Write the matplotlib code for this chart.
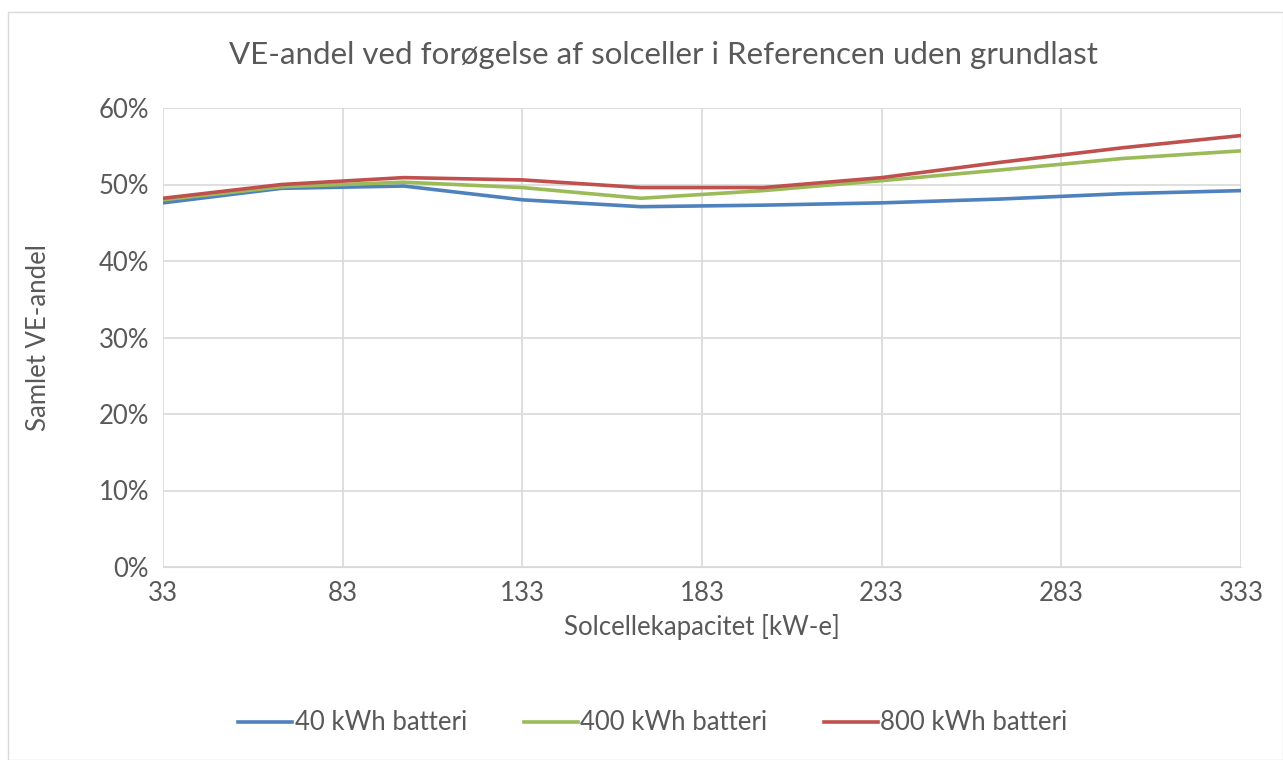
import matplotlib.pyplot as plt
from matplotlib.patches import Rectangle

plt.rcParams['font.family'] = ['Lato', 'DejaVu Sans']

kap = [33, 66, 100, 133, 166, 200, 233, 266, 300, 333]
bat40 = [47.6, 49.5, 49.8, 48.0, 47.1, 47.3, 47.6, 48.1, 48.8, 49.2]
bat400 = [48.0, 49.7, 50.3, 49.6, 48.2, 49.2, 50.5, 51.9, 53.4, 54.4]
bat800 = [48.2, 50.0, 50.9, 50.6, 49.6, 49.6, 50.9, 52.9, 54.8, 56.4]
xticks = [33, 83, 133, 183, 233, 283, 333]
yticks = [0, 10, 20, 30, 40, 50, 60]

tc = '#595959'
fig = plt.figure(figsize=(12.83, 7.6), dpi=100)
fig.patches.append(Rectangle((8/1283, 0), 1 - 8/1283, 1 - 12/760, transform=fig.transFigure,
                             fill=False, edgecolor='#d9d9d9', lw=1))
ax = fig.add_axes([163/1283, 1 - 567/760, 1078/1283, 459/760])

ax.plot(kap, bat40, color='#4f81bd', lw=2.6, label='40 kWh batteri')
ax.plot(kap, bat400, color='#9bbb59', lw=2.6, label='400 kWh batteri')
ax.plot(kap, bat800, color='#c0504d', lw=2.6, label='800 kWh batteri')

ax.set_xlim(33, 333)
ax.set_ylim(0, 60)
ax.set_xticks(xticks)
ax.set_yticks(yticks)
ax.set_yticklabels([f'{v}%' for v in yticks])
ax.grid(color='#d9d9d9', lw=1.2)
ax.set_axisbelow(True)
for s in ['top', 'right', 'left']:
    ax.spines[s].set_visible(False)
ax.spines['bottom'].set_color('#d9d9d9')
ax.tick_params(length=0, labelsize=18.5, colors=tc, pad=10)

ax.set_xlabel('Solcellekapacitet [kW-e]', fontsize=18.5, color=tc, labelpad=6)
ax.set_ylabel('Samlet VE-andel', fontsize=18.5, color=tc, labelpad=34)
fig.text(663/1283, 1 - 55/760, 'VE-andel ved forøgelse af solceller i Referencen uden grundlast',
         ha='center', va='center', fontsize=22.5, color=tc)

fig.legend(loc='center', bbox_to_anchor=(653/1283, 1 - 723/760), ncol=3, frameon=False,
           fontsize=18.5, handlelength=2.1, handletextpad=0.1, columnspacing=2.2, labelcolor=tc)

fig.savefig('out.png', dpi=100)
